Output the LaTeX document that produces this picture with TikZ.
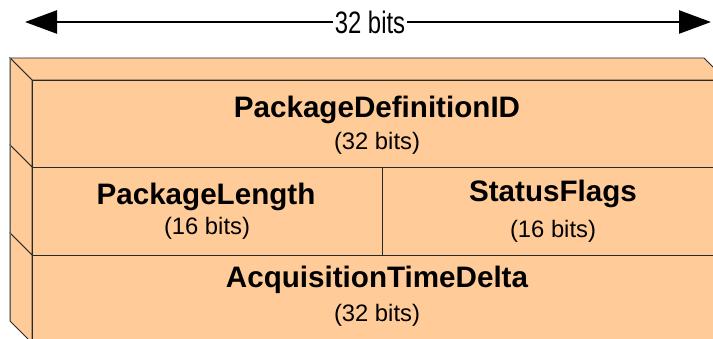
\documentclass[tikz,border=0pt]{standalone}
\usepackage{fontspec}
\setmainfont{Liberation Sans}
\usetikzlibrary{arrows.meta}
\definecolor{peach}{RGB}{255,204,153}
\definecolor{edge}{RGB}{40,40,40}
\definecolor{backedge}{RGB}{100,100,100}
\tikzset{
  face/.style={fill=peach, draw=edge, line width=0.9pt, line join=miter},
  fieldname/.style={anchor=base, inner sep=0pt, font=\fontsize{29.6}{32}\selectfont\bfseries},
  fieldsize/.style={anchor=base, inner sep=0pt, font=\fontsize{23.8}{26}\selectfont},
  widtharrow/.style={line width=2.5pt, {Triangle[length=32pt,width=23pt]}-{Triangle[length=32pt,width=23pt]}},
}
\begin{document}
\begin{tikzpicture}[x=1pt, y=-1pt]
\useasboundingbox (0,0) rectangle (713,339);
\clip (0,0) rectangle (713,339);

% word width arrow
\coordinate (wl) at (25,22);
\coordinate (wr) at (711,22);
\draw[widtharrow] (wl) -- (wr);
\node[fill=white, inner xsep=2.5pt, inner ysep=1pt, font=\fontsize{31}{34}\selectfont, xscale=0.77] (wlabel) at (370,22.5) {32 bits};

% top face of the stack
\path[face] (10,58) -- (704,58) -- (726,80) -- (32,80) -- cycle;

% left faces, one per row
\path[face] (10,58) -- (32,80) -- (32,167) -- (10,145) -- cycle;
\path[face] (10,145) -- (32,167) -- (32,255) -- (10,233) -- cycle;
\path[face] (10,233) -- (32,255) -- (32,343) -- (10,321) -- cycle;
\draw[backedge, line width=0.9pt] (10,58) -- (10,321);

% front faces
\path[face] (32,80) rectangle (726,167);
\path[face] (32,167) rectangle (382,255);
\path[face] (382,167) rectangle (726,255);
\path[face] (32,255) rectangle (726,343);

% field labels
\node[fieldname] (f1) at (377,118) {PackageDefinitionID};
\node[fieldsize] (s1) at (377,150) {(32 bits)};
\node[fieldname] (f2) at (206,205) {PackageLength};
\node[fieldsize] (s2) at (207,235) {(16 bits)};
\node[fieldname] (f3) at (553,202) {StatusFlags};
\node[fieldsize] (s3) at (553,238) {(16 bits)};
\node[fieldname] (f4) at (377,288) {AcquisitionTimeDelta};
\node[fieldsize] (s4) at (377,322) {(32 bits)};
\end{tikzpicture}
\end{document}
